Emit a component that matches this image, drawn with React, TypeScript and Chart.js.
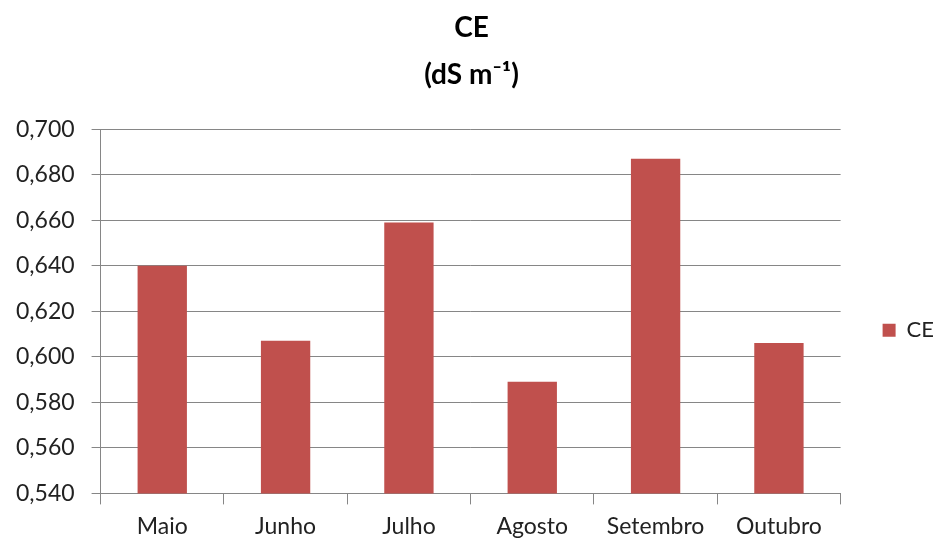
import React, { useEffect, useRef } from "react";
import { Chart, registerables } from "chart.js";

Chart.register(...registerables);

const categories = ["Maio", "Junho", "Julho", "Agosto", "Setembro", "Outubro"];
const ceValues = [0.640, 0.607, 0.659, 0.589, 0.687, 0.606];
const seriesName = "CE";
const titleLines = ["CE", "(dS m\u207B\u00B9)"];
const yMin = 0.54;
const yMax = 0.70;
const yStep = 0.02;

export default function App() {
  const ref = useRef<HTMLCanvasElement | null>(null);

  useEffect(() => {
    if (!ref.current) return;
    const font = "Lato, 'Open Sans', sans-serif";
    const chart = new Chart(ref.current, {
      type: "bar",
      data: {
        labels: categories,
        datasets: [
          {
            label: seriesName,
            data: ceValues,
            backgroundColor: "#C0504D",
            borderWidth: 0,
            barPercentage: 0.4,
            categoryPercentage: 1.0,
          },
        ],
      },
      options: {
        animation: false,
        responsive: false,
        devicePixelRatio: 1,
        layout: { padding: { left: -1, right: -11, top: 4, bottom: -9 } },
        plugins: {
          title: {
            display: true,
            text: titleLines,
            color: "#000000",
            font: { family: font, size: 28, weight: "bold", lineHeight: 1.68 },
            padding: { top: 0, bottom: 31 },
          },
          legend: {
            display: true,
            position: "right",
            title: {
              display: true,
              text: "",
              font: { size: 12, lineHeight: 1.2 },
              padding: { top: 94, bottom: 0 },
            },
            labels: {
              color: "#222222",
              font: { family: font, size: 22 },
              boxWidth: 13,
              boxHeight: 13,
              padding: 42,
            },
          },
          tooltip: { enabled: false },
        },
        scales: {
          x: {
            grid: {
              offset: true,
              drawOnChartArea: false,
              drawTicks: true,
              tickLength: 11,
              color: "#868686",
            },
            border: { display: true, color: "#868686", width: 1 },
            ticks: {
              color: "#222222",
              font: { family: font, size: 23 },
              padding: 8,
              maxRotation: 0,
            },
          },
          y: {
            min: yMin,
            max: yMax,
            grid: {
              color: "#868686",
              drawTicks: true,
              tickLength: 9,
              lineWidth: 1,
            },
            border: { display: true, color: "#868686", width: 1 },
            ticks: {
              stepSize: yStep,
              color: "#222222",
              font: { family: font, size: 23 },
              padding: 17,
              callback: (v: any) => Number(v).toFixed(3).replace(".", ","),
            },
          },
        },
      },
    });
    return () => chart.destroy();
  }, []);

  return (
    <div style={{ position: "fixed", left: 0, top: 0, width: 933, height: 539, background: "#fff" }}>
      <canvas ref={ref} width={933} height={539} style={{ width: 933, height: 539 }} />
    </div>
  );
}
